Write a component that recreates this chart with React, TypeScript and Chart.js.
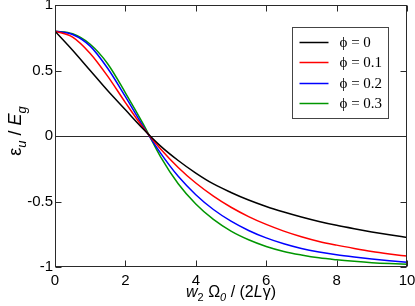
import React, { useEffect, useRef } from 'react';
import { Chart, registerables } from 'chart.js';

Chart.register(...registerables);

// ---- data ----
const xValues = [0, 0.5, 1, 1.5, 2, 2.5, 3, 3.5, 4, 4.5, 5, 5.5, 6, 6.5, 7, 7.5, 8, 8.5, 9, 9.5, 10];
const phi0 = [0.8, 0.655, 0.5, 0.345, 0.2, 0.055, -0.077, -0.187, -0.283, -0.366, -0.431, -0.489, -0.538, -0.58, -0.618, -0.652, -0.682, -0.708, -0.732, -0.754, -0.775];
const phi01 = [0.8, 0.755, 0.63, 0.455, 0.255, 0.065, -0.099, -0.24, -0.359, -0.459, -0.544, -0.615, -0.675, -0.726, -0.769, -0.805, -0.833, -0.858, -0.881, -0.9, -0.917];
const phi02 = [0.8, 0.775, 0.686, 0.515, 0.3, 0.075, -0.131, -0.308, -0.448, -0.561, -0.65, -0.721, -0.778, -0.823, -0.859, -0.886, -0.907, -0.924, -0.939, -0.952, -0.963];
const phi03 = [0.8, 0.78, 0.7, 0.55, 0.33, 0.095, -0.159, -0.364, -0.519, -0.637, -0.726, -0.792, -0.843, -0.881, -0.908, -0.93, -0.945, -0.957, -0.967, -0.974, -0.979];
const seriesLabels = ['ϕ = 0', 'ϕ = 0.1', 'ϕ = 0.2', 'ϕ = 0.3'];
const seriesColors = ['#000000', '#ff0000', '#0000ff', '#009600'];
const xRange = [0, 10];
const xStep = 2;
const yRange = [-1, 1];
const yStep = 0.5;

type Seg = { t: string; it?: boolean; sub?: boolean };
const xTitle: Seg[] = [
  { t: 'w', it: true }, { t: '2', sub: true }, { t: ' Ω' }, { t: '0', sub: true, it: true },
  { t: ' / (2' }, { t: 'L', it: true }, { t: 'γ)' },
];
const yTitle: Seg[] = [
  { t: 'ε' }, { t: 'u', sub: true, it: true }, { t: ' / ' }, { t: 'E', it: true }, { t: 'g', sub: true, it: true },
];

const SANS = '"Liberation Sans", Arial, Helvetica, sans-serif';
const SERIF = '"Liberation Serif", "Times New Roman", serif';
const FRAME = '#2a2a2a';

function drawSegs(ctx: CanvasRenderingContext2D, segs: Seg[], cx: number, baseY: number, size: number) {
  const fontFor = (s: Seg) => `${s.it ? 'italic ' : ''}${s.sub ? Math.round(size * 0.7) : size}px ${SANS}`;
  let total = 0;
  for (const s of segs) { ctx.font = fontFor(s); total += ctx.measureText(s.t).width; }
  let x = cx - total / 2;
  ctx.textAlign = 'left';
  ctx.textBaseline = 'alphabetic';
  for (const s of segs) {
    ctx.font = fontFor(s);
    ctx.fillText(s.t, x, baseY + (s.sub ? size * 0.28 : 0));
    x += ctx.measureText(s.t).width;
  }
}

const framePlugin = {
  id: 'frameTicks',
  beforeDatasetsDraw(chart: any) {
    const { ctx, chartArea: a, scales } = chart;
    const y0 = Math.round(scales.y.getPixelForValue(0)) + 0.5;
    ctx.save();
    ctx.strokeStyle = FRAME;
    ctx.lineWidth = 1;
    ctx.beginPath();
    ctx.moveTo(a.left, y0);
    ctx.lineTo(a.right, y0);
    ctx.stroke();
    ctx.restore();
  },
  afterDatasetsDraw(chart: any) {
    const { ctx, chartArea: a, scales } = chart;
    const L = Math.round(a.left) + 0.5;
    const R = Math.round(a.right) - 0.5;
    const T = Math.round(a.top) + 0.5;
    const B = Math.round(a.bottom) - 0.5;
    ctx.save();
    ctx.strokeStyle = FRAME;
    ctx.lineWidth = 1;
    ctx.strokeRect(L, T, R - L, B - T);
    const tl = 6;
    ctx.beginPath();
    for (const t of scales.x.ticks) {
      const px = Math.round(scales.x.getPixelForValue(t.value)) + 0.5;
      ctx.moveTo(px, B); ctx.lineTo(px, B - tl);
      ctx.moveTo(px, T); ctx.lineTo(px, T + tl);
    }
    for (const t of scales.y.ticks) {
      const py = Math.round(scales.y.getPixelForValue(t.value)) + 0.5;
      ctx.moveTo(L, py); ctx.lineTo(L + tl, py);
      ctx.moveTo(R, py); ctx.lineTo(R - tl, py);
    }
    ctx.stroke();
    ctx.restore();
  },
  afterDraw(chart: any) {
    const { ctx, chartArea: a } = chart;
    ctx.save();
    ctx.fillStyle = '#000';
    // axis titles
    drawSegs(ctx, xTitle, (a.left + a.right) / 2, a.bottom + 30, 16);
    ctx.save();
    ctx.translate(21, (a.top + a.bottom) / 2 - 5);
    ctx.rotate(-Math.PI / 2);
    drawSegs(ctx, yTitle, 0, 0, 18);
    ctx.restore();

    // legend box
    const bx = Math.round(a.right) - 115 + 0.5;
    const by = Math.round(a.top) + 22 + 0.5;
    const bw = 96;
    const bh = 91;
    ctx.fillStyle = '#fff';
    ctx.fillRect(bx, by, bw, bh);
    ctx.strokeStyle = '#444';
    ctx.lineWidth = 1;
    ctx.strokeRect(bx, by, bw, bh);
    chart.data.datasets.forEach((ds: any, i: number) => {
      const ly = Math.round(by + 14 + i * 20.5) + 0.5;
      ctx.strokeStyle = ds.borderColor;
      ctx.lineWidth = 1.5;
      ctx.beginPath();
      ctx.moveTo(bx + 7, ly);
      ctx.lineTo(bx + 36, ly);
      ctx.stroke();
      ctx.fillStyle = '#000';
      ctx.font = `15px ${SERIF}`;
      ctx.textAlign = 'left';
      ctx.textBaseline = 'middle';
      ctx.fillText(ds.label, bx + 47, ly + 0.5);
    });
    ctx.restore();
  },
};

export default function App() {
  const ref = useRef<HTMLCanvasElement | null>(null);
  useEffect(() => {
    document.body.style.margin = '0';
    const canvas = ref.current;
    if (!canvas) return;
    const series = [phi0, phi01, phi02, phi03];
    const chart = new Chart(canvas, {
      type: 'line',
      data: {
        datasets: series.map((ys, i) => ({
          label: seriesLabels[i],
          data: xValues.map((x, k) => ({ x, y: ys[k] })),
          borderColor: seriesColors[i],
          backgroundColor: seriesColors[i],
          borderWidth: 1.5,
          pointRadius: 0,
          fill: false,
          cubicInterpolationMode: 'monotone' as const,
        })),
      },
      options: {
        animation: false,
        responsive: false,
        maintainAspectRatio: false,
        layout: { padding: { top: 5, right: 8, left: 0, bottom: 0 } },
        plugins: { legend: { display: false }, tooltip: { enabled: false } },
        scales: {
          x: {
            type: 'linear',
            min: xRange[0],
            max: xRange[1],
            grid: { display: false, drawTicks: false },
            border: { display: false },
            ticks: { stepSize: xStep, padding: 5, color: '#000', font: { size: 15, family: SANS }, maxRotation: 0, callback: (v: any) => String(v) },
            afterFit: (s: any) => { s.height = 39; s.paddingLeft = 0; s.paddingRight = 0; },
          },
          y: {
            type: 'linear',
            min: yRange[0],
            max: yRange[1],
            grid: { display: false, drawTicks: false },
            border: { display: false },
            ticks: { stepSize: yStep, padding: 2, color: '#000', font: { size: 15, family: SANS }, callback: (v: any) => String(v) },
            afterFit: (s: any) => { s.width = 55; s.paddingTop = 0; s.paddingBottom = 0; },
          },
        },
      },
      plugins: [framePlugin],
    });
    return () => chart.destroy();
  }, []);
  return (
    <div style={{ position: 'absolute', left: 0, top: 0, width: 415, height: 306, background: '#fff' }}>
      <canvas ref={ref} width={415} height={306} style={{ display: 'block' }} />
    </div>
  );
}
